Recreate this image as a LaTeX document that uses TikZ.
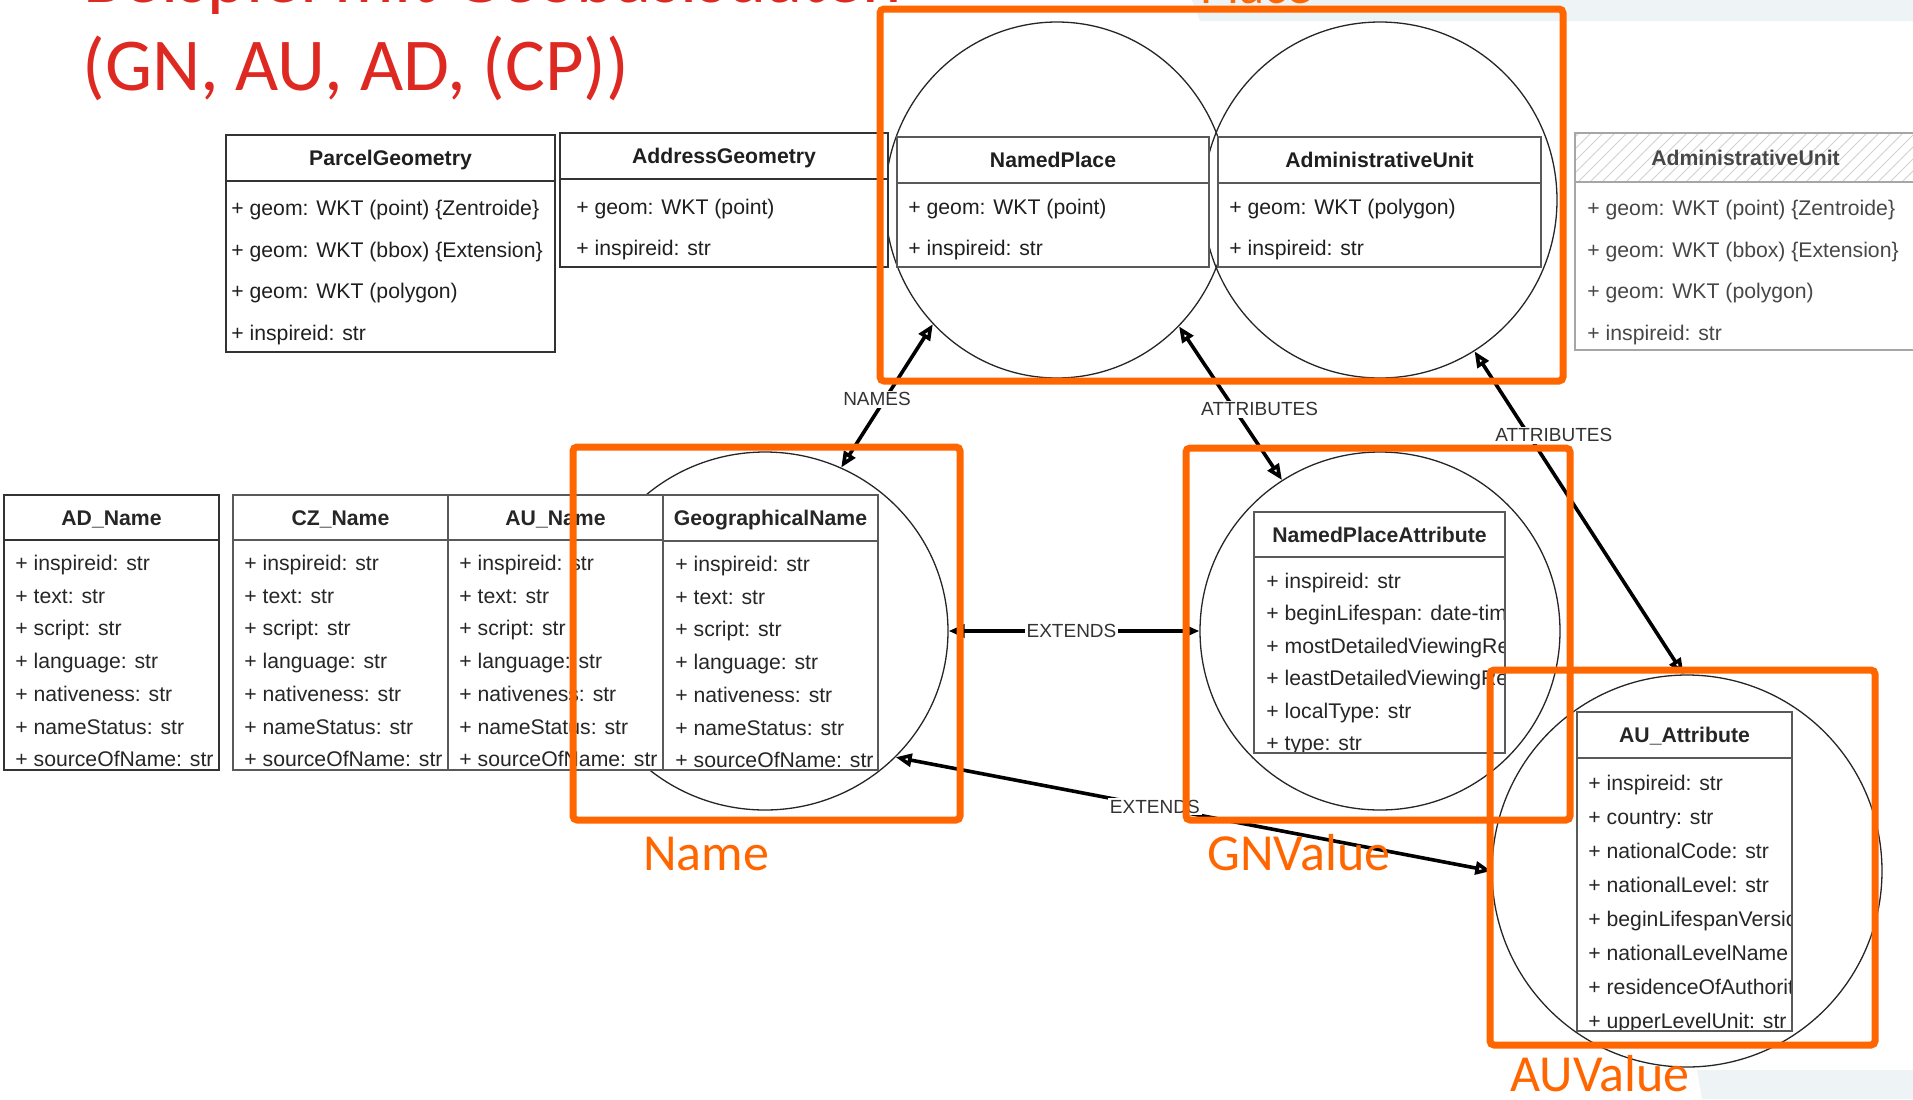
\documentclass[tikz,border=0pt]{standalone}
\usepackage{fontspec}
\setmainfont{Liberation Sans}
\newfontfamily\slidefont{Carlito}
\usetikzlibrary{arrows.meta,shapes.geometric}

\definecolor{slideorange}{RGB}{255,102,0}
\definecolor{slidered}{RGB}{221,41,33}
\definecolor{slidebg}{RGB}{238,243,246}

\tikzset{
  circ/.style={ellipse, draw=black!85, line width=0.65pt, inner sep=0pt},
  region/.style={draw=slideorange, line width=3.5pt, rounded corners=2pt},
  regionlabel/.style={anchor=base west, inner sep=0pt, text=slideorange,
    font=\slidefont\fontsize{26}{30}\selectfont},
  titletext/.style={anchor=base west, inner sep=0pt, text=slidered,
    font=\slidefont\fontsize{37.3}{44}\selectfont},
  link/.style={line width=1.8pt,
    {Triangle[open,length=8pt,width=6.5pt]}-{Triangle[open,length=8pt,width=6.5pt]}},
  linklabel/.style={fill=white, inner sep=1pt, text=black!80,
    font=\fontsize{9.5}{11}\selectfont},
  attr/.style={anchor=base west, inner sep=0pt, font=\fontsize{10.6}{12.5}\selectfont},
  head/.style={anchor=base, inner sep=0pt, font=\bfseries\fontsize{10.6}{12.5}\selectfont},
  sketchbox/.style={draw=black!80, line width=1pt},
  plainbox/.style={draw=black!65, line width=0.75pt},
  fadedbox/.style={draw=black!35, line width=0.75pt},
  umlframe/.style=plainbox,
  umlink/.style={text=black!88},
}

% optional decoration of a class header (empty by default)
\newcommand\umlheaderfill[4]{}

% UML class box: #1 name, #2 left, #3 right, #4 top, #5 header rule,
% #6 bottom, #7 class name, #8 attribute rows
\newcommand\umlbox[8]{%
  \fill[white] (#2,#4) rectangle (#3,#6);
  \umlheaderfill{#2}{#3}{#4}{#5}%
  \node[head, umlink] (#1) at ({(#2+#3)/2},{(#4+#5)/2+7.5}) {#7};
  \begin{scope}
    \clip (#2,#4) rectangle (#3,#6);
    \foreach [count=\i from 0] \rowtext in {#8}
      \node[attr, umlink] (#1-\i) at ({#2+\rowinset},{#5+\rowfirst+\i*\rowstep+7.5}) {\rowtext};
  \end{scope}
  \draw[umlframe] (#2,#4) rectangle (#3,#6) (#2,#5) -- (#3,#5);
}

\begin{document}
\begin{tikzpicture}[x=0.5pt,y=-0.5pt]
\useasboundingbox (0,0) rectangle (1913,1099);
\clip (0,0) rectangle (1913,1099);
\fill[white] (0,0) rectangle (1913,1099);

% slide background patches
\fill[slidebg] (1192,0) -- (1913,0) -- (1913,21) -- (1200,21) -- cycle;
\fill[slidebg] (1697,1070) -- (1913,1070) -- (1913,1099) -- (1702,1099) -- cycle;

% slide heading
\node[titletext] (heading1) at (83,2) {Beispiel mit Geobasisdaten};
\node[titletext] (heading2) at (82,90) {(GN, AU, AD, (CP))};

% grouping ellipses
\node[circ, minimum width=172pt, minimum height=178pt] (npc) at (1057,200) {};
\node[circ, minimum width=177pt, minimum height=178pt] (auc) at (1380,200) {};
\node[circ, minimum width=183pt, minimum height=179pt] (namec) at (765,631) {};
\node[circ, minimum width=180pt, minimum height=179pt] (npac) at (1380,631) {};
\node[circ, minimum width=195pt, minimum height=196pt] (auac) at (1687,871) {};

% geometry classes
\tikzset{umlframe/.style=sketchbox, umlink/.style={text=black!88}}
\def\rowinset{5}\def\rowfirst{27}\def\rowstep{41.7}
\umlbox{parcel}{226}{555}{135}{181}{352}{ParcelGeometry}{+ geom: WKT (point) \{Zentroide\},+ geom: WKT (bbox) \{Extension\},+ geom: WKT (polygon),+ inspireid: str}
\def\rowinset{16}\def\rowfirst{28}\def\rowstep{40.5}
\umlbox{address}{560}{888}{133}{179}{267}{AddressGeometry}{+ geom: WKT (point),+ inspireid: str}

\tikzset{umlframe/.style=plainbox}
\def\rowinset{11}\def\rowfirst{24}\def\rowstep{41}
\umlbox{namedplace}{897}{1209}{137}{183}{267}{NamedPlace}{+ geom: WKT (point),+ inspireid: str}
\umlbox{adminunit}{1218}{1541}{137}{183}{267}{AdministrativeUnit}{+ geom: WKT (polygon),+ inspireid: str}

% faded class with hatched header
\renewcommand\umlheaderfill[4]{%
  \begin{scope}
    \clip (#1,#3) rectangle (#2,#4);
    \foreach \k in {1530,1542,...,1930}
      \draw[black!18, line width=0.5pt] (\k,#4) -- ++(49,-49);
  \end{scope}}
\tikzset{umlframe/.style=fadedbox, umlink/.style={text=black!72}}
\def\rowinset{12}\def\rowfirst{26}\def\rowstep{41.7}
\umlbox{adminunitfull}{1575}{1916}{133}{182}{350}{AdministrativeUnit}{+ geom: WKT (point) \{Zentroide\},+ geom: WKT (bbox) \{Extension\},+ geom: WKT (polygon),+ inspireid: str}
\renewcommand\umlheaderfill[4]{}

% name classes
\tikzset{umlframe/.style=sketchbox, umlink/.style={text=black!85}}
\def\rowinset{11}\def\rowfirst{23}\def\rowstep{32.7}
\umlbox{adname}{4}{219}{495}{540}{770}{AD\_Name}{+ inspireid: str,+ text: str,+ script: str,+ language: str,+ nativeness: str,+ nameStatus: str,+ sourceOfName: str}
\tikzset{umlframe/.style=plainbox}
\umlbox{czname}{233}{448}{495}{540}{770}{CZ\_Name}{+ inspireid: str,+ text: str,+ script: str,+ language: str,+ nativeness: str,+ nameStatus: str,+ sourceOfName: str}
\umlbox{auname}{448}{663}{495}{540}{770}{AU\_Name}{+ inspireid: str,+ text: str,+ script: str,+ language: str,+ nativeness: str,+ nameStatus: str,+ sourceOfName: str}
\def\rowinset{12}
\umlbox{geoname}{663}{878}{495}{541}{770}{GeographicalName}{+ inspireid: str,+ text: str,+ script: str,+ language: str,+ nativeness: str,+ nameStatus: str,+ sourceOfName: str}

% attribute classes
\def\rowinset{12}\def\rowfirst{24}\def\rowstep{32.4}
\umlbox{npattr}{1254}{1505}{512}{557}{753}{NamedPlaceAttribute}{+ inspireid: str,+ beginLifespan: date-time,+ mostDetailedViewingResolution,+ leastDetailedViewingResolution,+ localType: str,+ type: str}
\def\rowinset{11}\def\rowfirst{25}\def\rowstep{34}
\umlbox{auattr}{1577}{1792}{712}{758}{1031}{AU\_Attribute}{+ inspireid: str,+ country: str,+ nationalCode: str,+ nationalLevel: str,+ beginLifespanVersion,+ nationalLevelName,+ residenceOfAuthority,+ upperLevelUnit: str}

% relations between the groups
\draw[link] (namec.65.4) -- node[linklabel, pos=.5, xshift=-5pt, yshift=-1.75pt] (lnames) {NAMES} (npc.225.9);
\draw[link] (npc.314.3) -- node[linklabel, pos=.54, xshift=12.5pt] (lattr1) {ATTRIBUTES} (npac.123);
\draw[link] (auc.302.1) -- node[linklabel, pos=.26, xshift=12.5pt] (lattr2) {ATTRIBUTES} (auac.91.7);
\draw[link] (namec.0) -- node[linklabel, pos=.49] (lext1) {EXTENDS} (npac.180);
\draw[link] (namec.316.5) -- node[linklabel, pos=.435] (lext2) {EXTENDS} (auac.180);

% highlighted regions
\draw[region] (880,9) rectangle (1563,381);
\draw[region] (573,447) rectangle (960,820);
\draw[region] (1186,448) rectangle (1570,820);
\draw[region] (1490,670) rectangle (1875,1045);

\node[regionlabel] (placelbl) at (1200,3) {Place};
\node[regionlabel] (namelbl) at (643,870) {Name};
\node[regionlabel] (gnvaluelbl) at (1207,870) {GNValue};
\node[regionlabel] (auvaluelbl) at (1510,1091) {AUValue};
\end{tikzpicture}
\end{document}
